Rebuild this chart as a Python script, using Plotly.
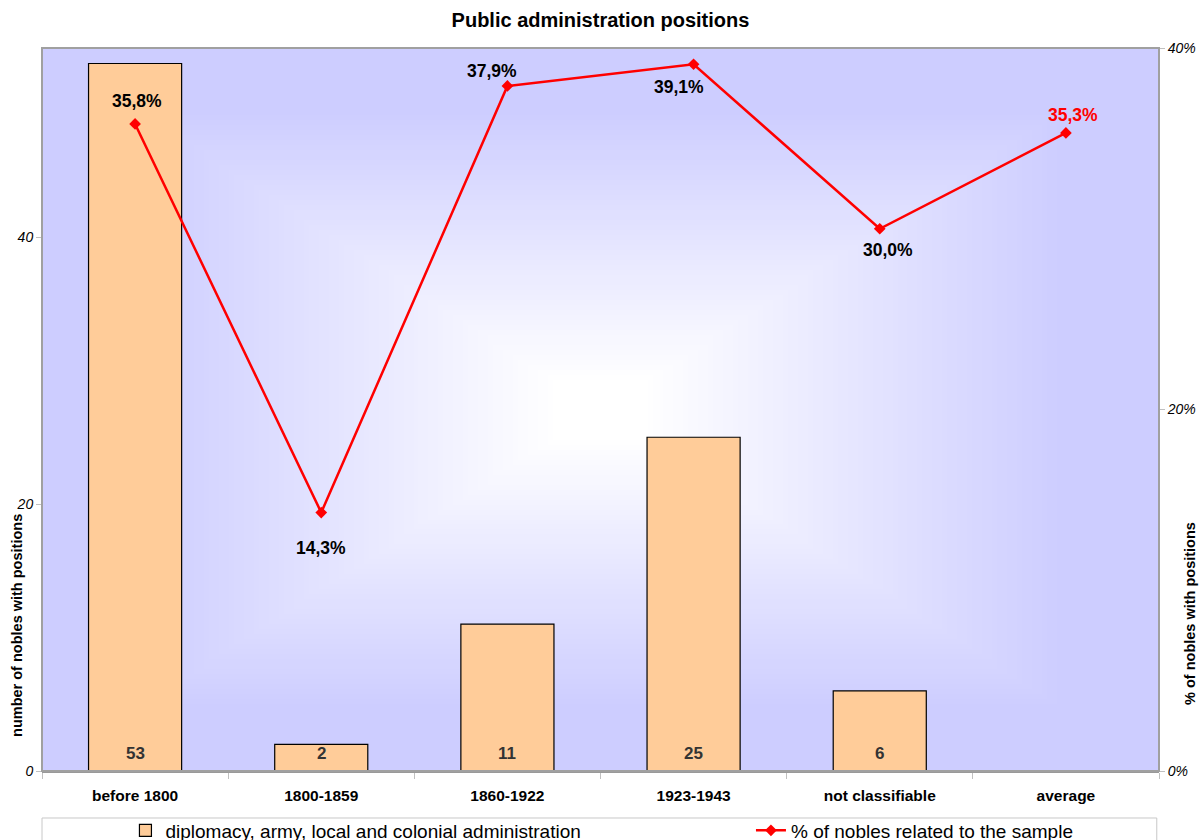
import base64
import struct
import zlib

import plotly.graph_objects as go

# ---- data -------------------------------------------------------------
periods = ["before 1800", "1800-1859", "1860-1922", "1923-1943",
           "not classifiable", "average"]
nobles_with_positions = [53, 2, 11, 25, 6, None]
share_of_sample = [35.8, 14.3, 37.9, 39.1, 30.0, 35.3]   # percent
share_labels = ["35,8%", "14,3%", "37,9%", "39,1%", "30,0%", "35,3%"]

bar_name = "diplomacy, army, local and colonial administration"
line_name = "% of nobles related to the sample"

# label offsets (px) for the percentage annotations
label_shift = [(2, 23), (0, -35), (-15, 15), (-15, -23), (8, -21), (7, 18)]
label_color = ["black", "black", "black", "black", "black", "red"]

# ---- rectangular "from centre" background gradient as a tiny PNG --------
def gradient_png(w, h, inner=(255, 255, 255), outer=(205, 205, 255)):
    rows = bytearray()
    for j in range(h):
        rows.append(0)
        dy = abs((j + 0.5) / h - 0.5) * 2
        for i in range(w):
            dx = abs((i + 0.5) / w - 0.5) * 2
            t = max(dx, dy)
            f = min(1.0, max(0.0, (t - 0.08) / 0.75))
            for a, b in zip(inner, outer):
                rows.append(int(round(a + (b - a) * f)))

    def chunk(tag, data):
        c = struct.pack(">I", len(data)) + tag + data
        return c + struct.pack(">I", zlib.crc32(tag + data) & 0xFFFFFFFF)

    png = b"\x89PNG\r\n\x1a\n"
    png += chunk(b"IHDR", struct.pack(">IIBBBBB", w, h, 8, 2, 0, 0, 0))
    png += chunk(b"IDAT", zlib.compress(bytes(rows), 9))
    png += chunk(b"IEND", b"")
    return "data:image/png;base64," + base64.b64encode(png).decode()


FONT = "Liberation Sans, Arial, sans-serif"

fig = go.Figure()

fig.add_trace(go.Bar(
    x=periods,
    y=nobles_with_positions,
    name=bar_name,
    width=0.5,
    marker=dict(color="#FFCC99", line=dict(color="black", width=1.2)),
    legend="legend",
))

fig.add_trace(go.Scatter(
    x=periods,
    y=[v / 100 for v in share_of_sample],
    name=line_name,
    yaxis="y2",
    mode="lines+markers",
    line=dict(color="#FF0000", width=2.5),
    marker=dict(symbol="diamond", size=9, color="#FF0000"),
    legend="legend2",
))

# bar values, written just above each bar's base
for p, v in zip(periods, nobles_with_positions):
    if v is None:
        continue
    fig.add_annotation(
        x=p, y=0, xref="x", yref="y", text=str(v), showarrow=False,
        yanchor="middle", yshift=18,
        font=dict(family=FONT, size=17, color="#333333", weight="bold"),
    )

# percentage labels next to the line markers
for p, v, lab, (sx, sy), c in zip(periods, share_of_sample, share_labels,
                                   label_shift, label_color):
    fig.add_annotation(
        x=p, y=v / 100, xref="x", yref="y2", text=lab, showarrow=False,
        xshift=sx, yshift=sy, xanchor="center", yanchor="middle",
        font=dict(family=FONT, size=17.5, color=c, weight="bold"),
    )

# axis titles
fig.add_annotation(
    x=-0.0224, y=0.202, xref="paper", yref="paper", textangle=-90,
    xanchor="center", yanchor="middle",
    text="number of nobles with positions", showarrow=False,
    font=dict(family=FONT, size=14.5, color="black", weight="bold"),
)
fig.add_annotation(
    x=1.0277, y=0.2185, xref="paper", yref="paper", textangle=-90,
    xanchor="center", yanchor="middle",
    text="% of nobles with positions", showarrow=False,
    font=dict(family=FONT, size=14.5, color="black", weight="bold"),
)

fig.add_layout_image(
    source=gradient_png(224, 145),
    xref="paper", yref="paper", x=0, y=1, sizex=1, sizey=1,
    xanchor="left", yanchor="top", sizing="stretch", layer="below",
)

# plot frame
fig.add_shape(type="rect", xref="paper", yref="paper", x0=0, y0=0, x1=1, y1=1,
              line=dict(color="#A0A0A0", width=2), layer="above")
# legend frame (runs past the bottom edge)
fig.add_shape(type="rect", xref="paper", yref="paper",
              x0=0, x1=0.998, y0=-0.065, y1=-0.25,
              line=dict(color="#C8C8C8", width=1), fillcolor="white",
              layer="below")

legend_style = dict(orientation="h", xanchor="left", yanchor="top", y=-0.056,
                    bgcolor="rgba(0,0,0,0)", borderwidth=0,
                    font=dict(family=FONT, size=19, color="black"))

fig.update_layout(
    width=1201, height=840,
    margin=dict(l=42, r=42, t=48, b=69, autoexpand=False),
    paper_bgcolor="white",
    plot_bgcolor="rgba(0,0,0,0)",
    font=dict(family=FONT, color="black"),
    title=dict(text="Public administration positions", x=0.5, xanchor="center",
               y=0.976, yanchor="middle",
               font=dict(family=FONT, size=20, color="black", weight="bold")),
    showlegend=True,
    legend=dict(x=0.0747, **legend_style),
    legend2=dict(x=0.6347, **legend_style),
    xaxis=dict(
        type="category", range=[-0.5, 5.5],
        showline=True, linecolor="#999999", linewidth=1.5,
        ticks="outside", tickson="boundaries", ticklen=6, tickcolor="#C0C0C0",
        ticklabelstandoff=10,
        tickfont=dict(family=FONT, size=15.5, color="black", weight="bold"),
        showgrid=False, zeroline=False,
    ),
    yaxis=dict(
        range=[0, 54.16], tickvals=[0, 20, 40], ticktext=["0", "20", "40"],
        ticks="outside", ticklen=5, tickcolor="#C0C0C0",
        tickfont=dict(family=FONT, size=14, color="black", style="italic"),
        showgrid=False, zeroline=False, showline=False,
    ),
    yaxis2=dict(
        overlaying="y", side="right", range=[0, 0.40],
        tickvals=[0, 0.2, 0.4], ticktext=["0%", "20%", "40%"],
        ticks="outside", ticklen=5, tickcolor="#C0C0C0",
        tickfont=dict(family=FONT, size=14, color="black", style="italic"),
        showgrid=False, zeroline=False, showline=False,
    ),
)

fig.write_html("out.html")
